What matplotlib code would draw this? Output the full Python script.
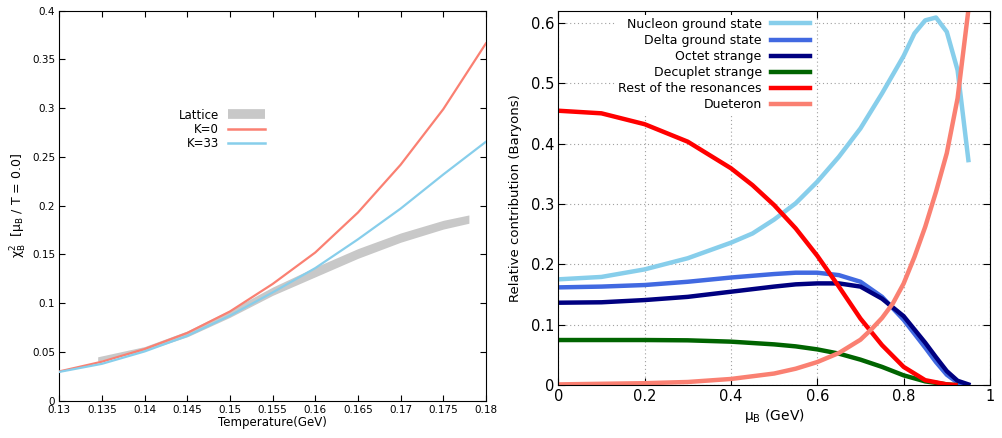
import matplotlib
matplotlib.use("Agg")
import matplotlib.pyplot as plt
from matplotlib.lines import Line2D

# ---------------- left panel data ----------------
temp = [0.13, 0.135, 0.14, 0.145, 0.15, 0.155, 0.16, 0.165, 0.17, 0.175, 0.18]
chi_k0 = [0.0300, 0.0400, 0.0530, 0.0695, 0.0915, 0.1197, 0.1520, 0.1930, 0.2420, 0.2990, 0.3665]
chi_k33 = [0.0295, 0.0378, 0.0505, 0.0665, 0.0872, 0.1110, 0.1360, 0.1655, 0.1970, 0.2320, 0.2656]

lat_temp = [0.1345, 0.14, 0.145, 0.15, 0.155, 0.16, 0.165, 0.17, 0.175, 0.178]
lat_lo = [0.0405, 0.0510, 0.0655, 0.0855, 0.1080, 0.1270, 0.1460, 0.1625, 0.1760, 0.1820]
lat_hi = [0.0450, 0.0555, 0.0715, 0.0930, 0.1165, 0.1370, 0.1560, 0.1720, 0.1850, 0.1905]

left_xticks = [0.13, 0.135, 0.14, 0.145, 0.15, 0.155, 0.16, 0.165, 0.17, 0.175, 0.18]
left_xlabels = ["0.13", "0.135", "0.14", "0.145", "0.15", "0.155", "0.16", "0.165", "0.17", "0.175", "0.18"]
left_yticks = [0, 0.05, 0.1, 0.15, 0.2, 0.25, 0.3, 0.35, 0.4]
left_ylabels = ["0", "0.05", "0.1", "0.15", "0.2", "0.25", "0.3", "0.35", "0.4"]

# ---------------- right panel data ----------------
mu_nuc = [0.0, 0.1, 0.2, 0.3, 0.4, 0.45, 0.5, 0.55, 0.6, 0.65, 0.7, 0.75, 0.8, 0.825, 0.85, 0.875, 0.9, 0.925, 0.95]
nucleon = [0.175, 0.179, 0.1915, 0.210, 0.2357, 0.251, 0.274, 0.301, 0.3367, 0.378, 0.425, 0.483, 0.545, 0.5823, 0.604, 0.6087, 0.585, 0.5215, 0.3725]

mu_delta = [0.0, 0.1, 0.2, 0.3, 0.4, 0.5, 0.55, 0.6, 0.65, 0.7, 0.75, 0.8, 0.85, 0.875, 0.9, 0.925, 0.94]
delta = [0.1617, 0.163, 0.1656, 0.171, 0.178, 0.1838, 0.186, 0.186, 0.182, 0.171, 0.146, 0.108, 0.062, 0.038, 0.017, 0.004, 0.001]

mu_octet = [0.0, 0.1, 0.2, 0.3, 0.4, 0.5, 0.55, 0.6, 0.65, 0.7, 0.75, 0.8, 0.85, 0.875, 0.9, 0.925, 0.95]
octet = [0.1363, 0.137, 0.1407, 0.146, 0.1545, 0.163, 0.1667, 0.1683, 0.1683, 0.163, 0.143, 0.114, 0.070, 0.046, 0.023, 0.007, 0.001]

mu_dec = [0.0, 0.2, 0.3, 0.4, 0.5, 0.55, 0.6, 0.65, 0.7, 0.75, 0.8, 0.85, 0.9, 0.92]
decuplet = [0.0745, 0.0745, 0.074, 0.0718, 0.0673, 0.0640, 0.059, 0.052, 0.042, 0.030, 0.016, 0.006, 0.001, 0.0]

mu_rest = [0.0, 0.1, 0.2, 0.3, 0.4, 0.45, 0.5, 0.55, 0.6, 0.65, 0.7, 0.725, 0.75, 0.8, 0.85, 0.9, 0.92]
rest = [0.4543, 0.450, 0.432, 0.403, 0.359, 0.331, 0.298, 0.2594, 0.214, 0.163, 0.110, 0.088, 0.066, 0.030, 0.008, 0.001, 0.0]

mu_deut = [0.0, 0.1, 0.2, 0.3, 0.4, 0.5, 0.55, 0.6, 0.65, 0.7, 0.725, 0.75, 0.775, 0.8, 0.825, 0.85, 0.875, 0.9, 0.925, 0.95]
deuteron = [0.001, 0.002, 0.003, 0.005, 0.010, 0.019, 0.027, 0.038, 0.053, 0.075, 0.092, 0.111, 0.135, 0.168, 0.212, 0.262, 0.320, 0.384, 0.475, 0.621]

right_xticks = [0, 0.2, 0.4, 0.6, 0.8, 1.0]
right_xlabels = ["0", "0.2", "0.4", "0.6", "0.8", "1"]
right_yticks = [0, 0.1, 0.2, 0.3, 0.4, 0.5, 0.6]
right_ylabels = ["0", "0.1", "0.2", "0.3", "0.4", "0.5", "0.6"]

plt.rcParams['font.family'] = ['DejaVu Sans']

fig = plt.figure(figsize=(10.03, 4.38), dpi=100)

# ---------------- left ----------------
ax1 = fig.add_axes([0.0591, 0.0852, 0.4254, 0.8904])
ax1.fill_between(lat_temp, lat_lo, lat_hi, color='#c8c8c8', lw=0, zorder=1)
ax1.plot(temp, chi_k0, color='#fa8072', lw=1.6, zorder=3)
ax1.plot(temp, chi_k33, color='#87ceeb', lw=1.6, zorder=3)
ax1.set_xlim(0.13, 0.18)
ax1.set_ylim(0, 0.4)
ax1.set_xticks(left_xticks)
ax1.set_xticklabels(left_xlabels)
ax1.set_yticks(left_yticks)
ax1.set_yticklabels(left_ylabels)
ax1.tick_params(direction='in', top=True, right=True, length=4, width=0.8, labelsize=7.5, pad=3)
ax1.set_xlabel('Temperature(GeV)', fontsize=8.5, labelpad=1)
ax1.set_ylabel(r'$\mathregular{\chi^2_B}$  [$\mathregular{\mu_B}$ / T = 0.0]', fontsize=9, labelpad=2)
handles1 = [Line2D([], [], color='#c8c8c8', lw=7, solid_capstyle='butt'),
            Line2D([], [], color='#fa8072', lw=1.8),
            Line2D([], [], color='#87ceeb', lw=1.8)]
leg1 = ax1.legend(handles1, ['Lattice', 'K=0', 'K=33'], loc='center right',
                  bbox_to_anchor=(0.482, 0.6954), frameon=False, markerfirst=False,
                  fontsize=8.5, handlelength=3.1, handletextpad=0.8,
                  labelspacing=0.12, borderpad=0, borderaxespad=0)
for t in leg1.get_texts():
    t.set_ha('right')

# ---------------- right ----------------
ax2 = fig.add_axes([0.5566, 0.1210, 0.4304, 0.8546])
lw = 3.2
ax2.plot(mu_nuc, nucleon, color='#87ceeb', lw=lw, label='Nucleon ground state')
ax2.plot(mu_delta, delta, color='#4169e1', lw=lw, label='Delta ground state')
ax2.plot(mu_octet, octet, color='#000080', lw=lw, label='Octet strange')
ax2.plot(mu_dec, decuplet, color='#006400', lw=lw, label='Decuplet strange')
ax2.plot(mu_rest, rest, color='#ff0000', lw=lw, label='Rest of the resonances')
ax2.plot(mu_deut, deuteron, color='#fa8072', lw=lw, label='Dueteron')
ax2.set_xlim(0, 1)
ax2.set_ylim(0, 0.62)
ax2.set_xticks(right_xticks)
ax2.set_xticklabels(right_xlabels)
ax2.set_yticks(right_yticks)
ax2.set_yticklabels(right_ylabels)
ax2.grid(True, color='#a0a0a0', lw=0.8, linestyle=(0, (1, 2.5)))
ax2.set_axisbelow(True)
ax2.tick_params(direction='in', top=True, right=True, length=5, width=0.8, labelsize=10.5, pad=3)
ax2.set_xlabel(r'$\mathregular{\mu_B}$ (GeV)', fontsize=10, labelpad=2)
ax2.set_ylabel('Relative contribution (Baryons)', fontsize=9.5, labelpad=6)
leg2 = ax2.legend(loc='center right', bbox_to_anchor=(0.590, 0.856), frameon=True,
                  markerfirst=False, fontsize=9, handlelength=3.1, handletextpad=0.75,
                  labelspacing=0.25, borderpad=0.25, borderaxespad=0, fancybox=False)
leg2.get_frame().set_facecolor('white')
leg2.get_frame().set_edgecolor('none')
leg2.get_frame().set_alpha(1.0)
leg2.set_zorder(1.5)
for t in leg2.get_texts():
    t.set_ha('right')

fig.savefig('out.png', dpi=100)
